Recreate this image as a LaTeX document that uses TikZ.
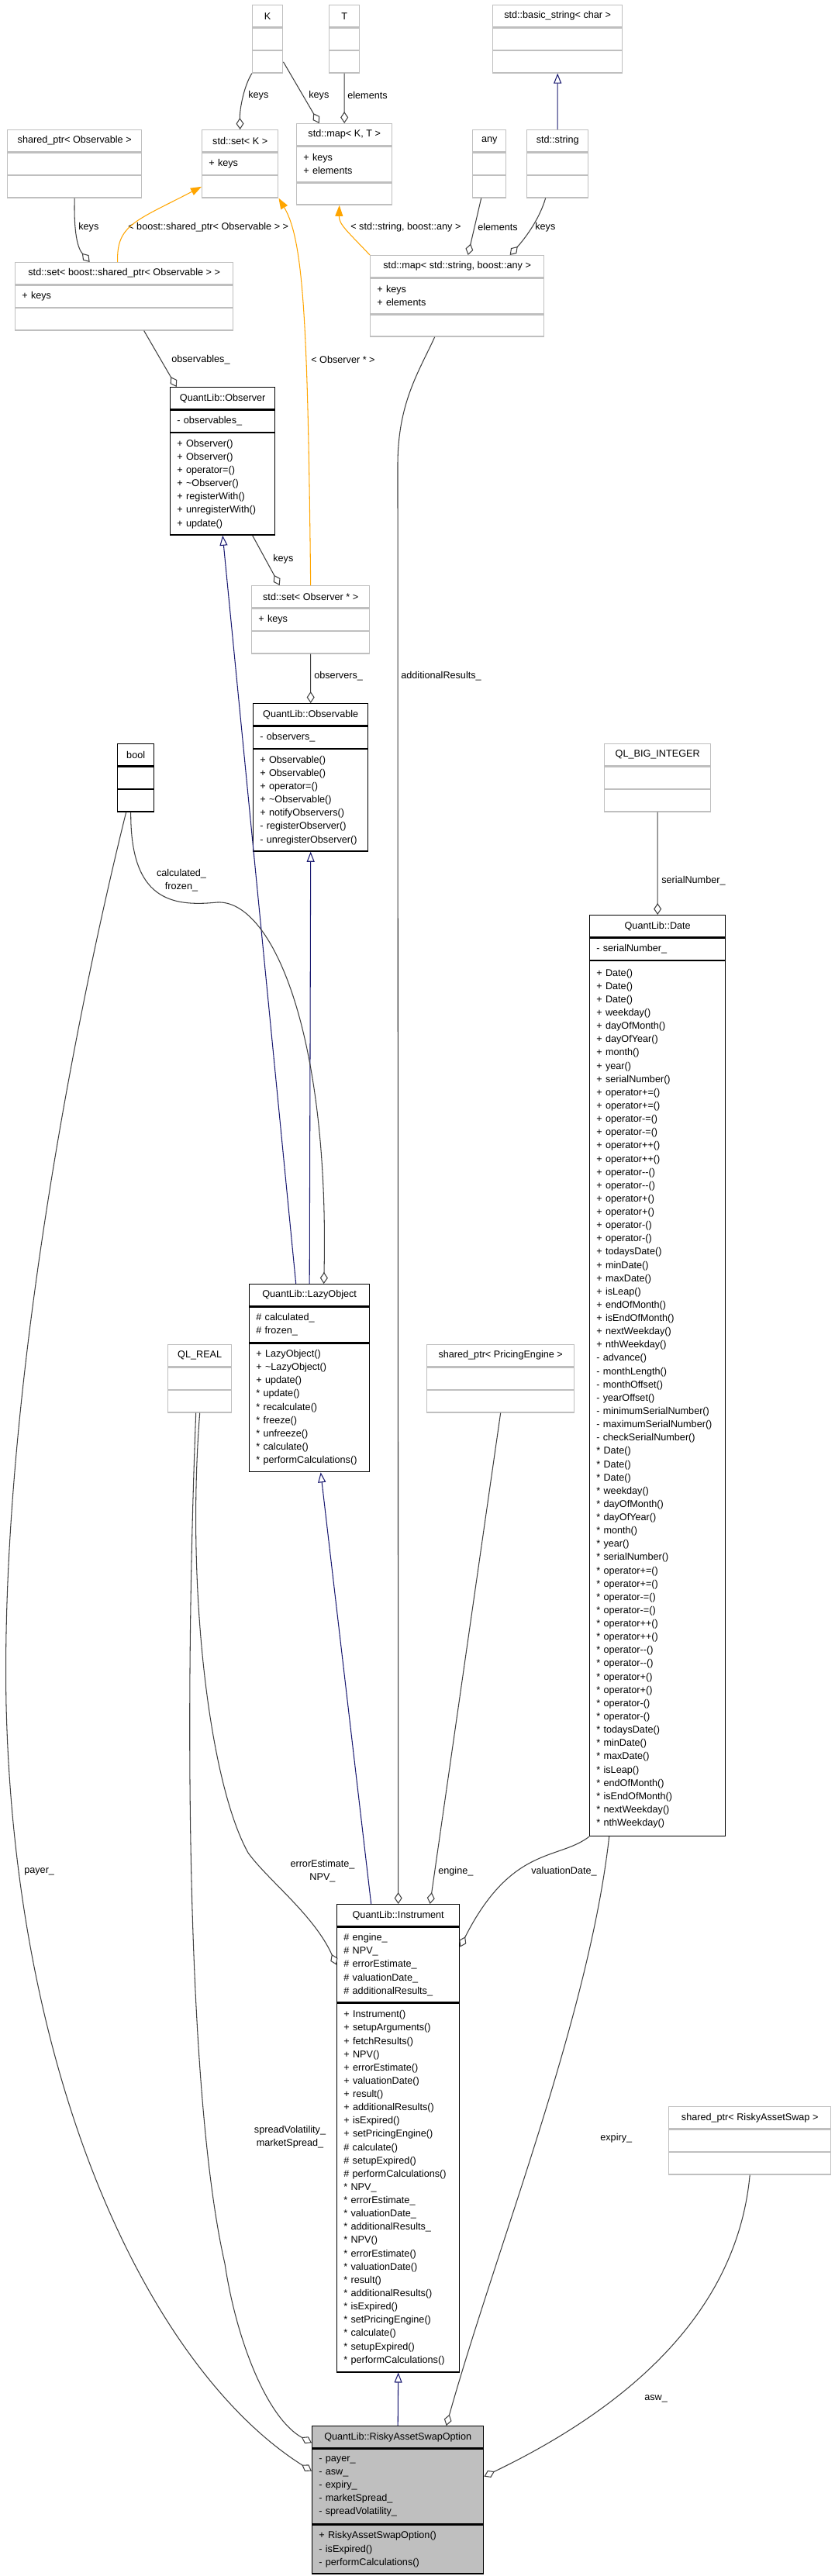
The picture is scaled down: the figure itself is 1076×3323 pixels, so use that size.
\documentclass[tikz,border=0pt]{standalone}
\usepackage{fontspec}
\setmainfont{Liberation Sans}
\usepackage{tikz}
\usetikzlibrary{arrows.meta,positioning}
\definecolor{edgegray}{RGB}{64,64,64}
\definecolor{inhblue}{RGB}{25,25,112}
\definecolor{tplorange}{RGB}{255,165,0}
\definecolor{extgray}{RGB}{191,191,191}
\definecolor{selfgray}{RGB}{191,191,191}
\newcommand{\umlfont}{\fontsize{7.2}{9.75}\selectfont}

\begin{document}
\begin{tikzpicture}[
  x=0.02cm,y=-0.02cm,node distance=0pt,
  every node/.style={font=\umlfont},
  hdr/.style={draw,line width=0.8pt,anchor=north west,minimum height=0.56cm,inner xsep=5pt,inner ysep=1pt},
  sect/.style={draw,line width=0.8pt,align=left,inner xsep=5pt,inner ysep=1pt,minimum height=0.344cm*#1+0.22cm},
  ext/.style={draw=extgray},
  lbl/.style={anchor=west,inner sep=0pt},
  agg/.style={draw=edgegray,line width=0.6pt,-{Diamond[open,length=8.5pt,width=5.7pt]}},
  inh/.style={draw=inhblue,line width=0.6pt,-{Triangle[open,length=7.4pt,width=5.7pt]}},
  tpl/.style={draw=tplorange,line width=0.6pt,-{Triangle[length=8pt,width=5.7pt]}}
]
\useasboundingbox (0,0) rectangle (1076,3323);

% std containers and templates
\node[hdr,ext,minimum width=0.78cm] (k) at (325,6) {K};
\node[sect=1,ext,text width=0.43cm,below=of k] (k-a) {};
\node[sect=1,ext,text width=0.43cm,below=of k-a] (k-m) {};

\node[hdr,ext,minimum width=0.78cm] (t) at (424,6) {T};
\node[sect=1,ext,text width=0.43cm,below=of t] (t-a) {};
\node[sect=1,ext,text width=0.43cm,below=of t-a] (t-m) {};

\node[hdr,ext,minimum width=3.34cm] (bstr) at (635,6) {std::basic\_string< char >};
\node[sect=1,ext,text width=2.99cm,below=of bstr] (bstr-a) {};
\node[sect=1,ext,text width=2.99cm,below=of bstr-a] (bstr-m) {};

\node[hdr,ext,minimum width=3.46cm] (spobs) at (9,167) {shared\_ptr< Observable >};
\node[sect=1,ext,text width=3.11cm,below=of spobs] (spobs-a) {};
\node[sect=1,ext,text width=3.11cm,below=of spobs-a] (spobs-m) {};

\node[hdr,ext,minimum width=1.96cm] (setk) at (260,167) {std::set< K >};
\node[sect=1,ext,text width=1.61cm,below=of setk] (setk-a) {+ keys};
\node[sect=1,ext,text width=1.61cm,below=of setk-a] (setk-m) {};

\node[hdr,ext,minimum width=2.46cm] (mapkt) at (382,159) {std::map< K, T >};
\node[sect=2,ext,text width=2.11cm,below=of mapkt] (mapkt-a) {+ keys\\+ elements};
\node[sect=1,ext,text width=2.11cm,below=of mapkt-a] (mapkt-m) {};

\node[hdr,ext,minimum width=0.86cm] (any) at (609,167) {any};
\node[sect=1,ext,text width=0.51cm,below=of any] (any-a) {};
\node[sect=1,ext,text width=0.51cm,below=of any-a] (any-m) {};

\node[hdr,ext,minimum width=1.58cm] (str) at (679,167) {std::string};
\node[sect=1,ext,text width=1.23cm,below=of str] (str-a) {};
\node[sect=1,ext,text width=1.23cm,below=of str-a] (str-m) {};

\node[hdr,ext,minimum width=5.62cm] (setsp) at (19,338) {std::set< boost::shared\_ptr< Observable > >};
\node[sect=1,ext,text width=5.27cm,below=of setsp] (setsp-a) {+ keys};
\node[sect=1,ext,text width=5.27cm,below=of setsp-a] (setsp-m) {};

\node[hdr,ext,minimum width=4.48cm] (mapsa) at (477,329) {std::map< std::string, boost::any >};
\node[sect=2,ext,text width=4.13cm,below=of mapsa] (mapsa-a) {+ keys\\+ elements};
\node[sect=1,ext,text width=4.13cm,below=of mapsa-a] (mapsa-m) {};

% observer pattern
\node[hdr,minimum width=2.70cm] (obsr) at (219,499) {QuantLib::Observer};
\node[sect=1,text width=2.35cm,below=of obsr] (obsr-a) {- observables\_};
\node[sect=7,text width=2.35cm,below=of obsr-a] (obsr-m) {+ Observer()\\+ Observer()\\+ operator=()\\+ \textasciitilde Observer()\\+ registerWith()\\+ unregisterWith()\\+ update()};

\node[hdr,ext,minimum width=3.04cm] (setobs) at (324,755) {std::set< Observer * >};
\node[sect=1,ext,text width=2.69cm,below=of setobs] (setobs-a) {+ keys};
\node[sect=1,ext,text width=2.69cm,below=of setobs-a] (setobs-m) {};

\node[hdr,minimum width=2.96cm] (obsl) at (326,907) {QuantLib::Observable};
\node[sect=1,text width=2.61cm,below=of obsl] (obsl-a) {- observers\_};
\node[sect=7,text width=2.61cm,below=of obsl-a] (obsl-m) {+ Observable()\\+ Observable()\\+ operator=()\\+ \textasciitilde Observable()\\+ notifyObservers()\\- registerObserver()\\- unregisterObserver()};

\node[hdr,minimum width=0.94cm] (bool) at (151,959) {bool};
\node[sect=1,text width=0.59cm,below=of bool] (bool-a) {};
\node[sect=1,text width=0.59cm,below=of bool-a] (bool-m) {};

\node[hdr,ext,minimum width=2.74cm] (qlbig) at (779,959) {QL\_BIG\_INTEGER};
\node[sect=1,ext,text width=2.39cm,below=of qlbig] (qlbig-a) {};
\node[sect=1,ext,text width=2.39cm,below=of qlbig-a] (qlbig-m) {};

\node[hdr,minimum width=3.50cm] (date) at (760,1180) {QuantLib::Date};
\node[sect=1,text width=3.15cm,below=of date] (date-a) {- serialNumber\_};
\node[sect=65,text width=3.15cm,below=of date-a] (date-m) {+ Date()\\+ Date()\\+ Date()\\+ weekday()\\+ dayOfMonth()\\+ dayOfYear()\\+ month()\\+ year()\\+ serialNumber()\\+ operator+=()\\+ operator+=()\\+ operator-=()\\+ operator-=()\\+ operator++()\\+ operator++()\\+ operator-{}-()\\+ operator-{}-()\\+ operator+()\\+ operator+()\\+ operator-()\\+ operator-()\\+ todaysDate()\\+ minDate()\\+ maxDate()\\+ isLeap()\\+ endOfMonth()\\+ isEndOfMonth()\\+ nextWeekday()\\+ nthWeekday()\\- advance()\\- monthLength()\\- monthOffset()\\- yearOffset()\\- minimumSerialNumber()\\- maximumSerialNumber()\\- checkSerialNumber()\\{}* Date()\\{}* Date()\\{}* Date()\\{}* weekday()\\{}* dayOfMonth()\\{}* dayOfYear()\\{}* month()\\{}* year()\\{}* serialNumber()\\{}* operator+=()\\{}* operator+=()\\{}* operator-=()\\{}* operator-=()\\{}* operator++()\\{}* operator++()\\{}* operator-{}-()\\{}* operator-{}-()\\{}* operator+()\\{}* operator+()\\{}* operator-()\\{}* operator-()\\{}* todaysDate()\\{}* minDate()\\{}* maxDate()\\{}* isLeap()\\{}* endOfMonth()\\{}* isEndOfMonth()\\{}* nextWeekday()\\{}* nthWeekday()};

\node[hdr,minimum width=3.10cm] (lazy) at (321,1656) {QuantLib::LazyObject};
\node[sect=2,text width=2.75cm,below=of lazy] (lazy-a) {\# calculated\_\\\# frozen\_};
\node[sect=9,text width=2.75cm,below=of lazy-a] (lazy-m) {+ LazyObject()\\+ \textasciitilde LazyObject()\\+ update()\\{}* update()\\{}* recalculate()\\{}* freeze()\\{}* unfreeze()\\{}* calculate()\\{}* performCalculations()};

\node[hdr,ext,minimum width=1.64cm] (qlreal) at (216,1734) {QL\_REAL};
\node[sect=1,ext,text width=1.29cm,below=of qlreal] (qlreal-a) {};
\node[sect=1,ext,text width=1.29cm,below=of qlreal-a] (qlreal-m) {};

\node[hdr,ext,minimum width=3.80cm] (spe) at (550,1734) {shared\_ptr< PricingEngine >};
\node[sect=1,ext,text width=3.45cm,below=of spe] (spe-a) {};
\node[sect=1,ext,text width=3.45cm,below=of spe-a] (spe-m) {};

\node[hdr,minimum width=3.16cm] (inst) at (434,2456) {QuantLib::Instrument};
\node[sect=5,text width=2.81cm,below=of inst] (inst-a) {\# engine\_\\\# NPV\_\\\# errorEstimate\_\\\# valuationDate\_\\\# additionalResults\_};
\node[sect=27,text width=2.81cm,below=of inst-a] (inst-m) {+ Instrument()\\+ setupArguments()\\+ fetchResults()\\+ NPV()\\+ errorEstimate()\\+ valuationDate()\\+ result()\\+ additionalResults()\\+ isExpired()\\+ setPricingEngine()\\\# calculate()\\\# setupExpired()\\\# performCalculations()\\{}* NPV\_\\{}* errorEstimate\_\\{}* valuationDate\_\\{}* additionalResults\_\\{}* NPV()\\{}* errorEstimate()\\{}* valuationDate()\\{}* result()\\{}* additionalResults()\\{}* isExpired()\\{}* setPricingEngine()\\{}* calculate()\\{}* setupExpired()\\{}* performCalculations()};

\node[hdr,ext,minimum width=4.18cm] (spras) at (862,2717) {shared\_ptr< RiskyAssetSwap >};
\node[sect=1,ext,text width=3.83cm,below=of spras] (spras-a) {};
\node[sect=1,ext,text width=3.83cm,below=of spras-a] (spras-m) {};

\node[hdr,fill=selfgray,minimum width=4.42cm] (raso) at (402,3129) {QuantLib::RiskyAssetSwapOption};
\node[sect=5,fill=selfgray,text width=4.07cm,below=of raso] (raso-a) {- payer\_\\- asw\_\\- expiry\_\\- marketSpread\_\\- spreadVolatility\_};
\node[sect=3,fill=selfgray,text width=4.07cm,below=of raso-a] (raso-m) {+ RiskyAssetSwapOption()\\- isExpired()\\- performCalculations()};

% edge labels
\node[lbl] (l-keys1) at (320,123) {keys};
\node[lbl] (l-keys2) at (398,123) {keys};
\node[lbl] (l-elem1) at (448,123) {elements};
\node[lbl] (l-keys3) at (101,293) {keys};
\node[lbl] (l-tsp) at (165,293) {< boost::shared\_ptr< Observable > >};
\node[lbl] (l-tsa) at (452,293) {< std::string, boost::any >};
\node[lbl] (l-elem2) at (616,293) {elements};
\node[lbl] (l-keys4) at (690,293) {keys};
\node[lbl] (l-observables) at (221,464) {observables\_};
\node[lbl] (l-tobs) at (401,464) {< Observer * >};
\node[lbl] (l-keys5) at (352,721) {keys};
\node[lbl] (l-observers) at (405,872) {observers\_};
\node[lbl] (l-addres) at (517,872) {additionalResults\_};
\node[lbl,anchor=center,align=center] (l-calc) at (234,1136) {calculated\_\\frozen\_};
\node[lbl] (l-serial) at (853,1136) {serialNumber\_};
\node[lbl,anchor=center,align=center] (l-npv) at (416,2414) {errorEstimate\_\\NPV\_};
\node[lbl] (l-engine) at (565,2414) {engine\_};
\node[lbl] (l-valdate) at (685,2414) {valuationDate\_};
\node[lbl] (l-payer) at (31,2414) {payer\_};
\node[lbl,anchor=center,align=center] (l-spread) at (374,2757) {spreadVolatility\_\\marketSpread\_};
\node[lbl] (l-expiry) at (774,2758) {expiry\_};
\node[lbl] (l-asw) at (831,3094) {asw\_};

% template instances
\draw[tpl] ([xshift=-0.17cm]setsp.north) .. controls (150,290) and (175,285) .. (setk-m.west);
\draw[tpl] (setobs.north) .. controls (397,420) and (392,310) .. (setk-m.south east);
\draw[tpl] (mapsa.north west) .. controls (450,300) and (437,290) .. ([xshift=-0.13cm]mapkt-m.south);

% inheritance
\draw[inh] (str.north) -- (bstr-m.south);
\draw[inh] ([xshift=-0.35cm]lazy.north) -- (obsr-m.south);
\draw[inh] (lazy.north) -- (obsl-m.south);
\draw[inh] ([xshift=-0.7cm]inst.north) -- ([xshift=0.29cm]lazy-m.south);
\draw[inh] (raso.north) -- (inst-m.south);

% members
\draw[agg] (k-m.south west) .. controls (315,110) and (309,140) .. (setk.north);
\draw[agg] (k-m.east) -- ([xshift=-0.65cm]mapkt.north);
\draw[agg] (t-m.south) -- (mapkt.north);
\draw[agg] (spobs-m.south) .. controls (95,300) and (100,320) .. ([xshift=-0.89cm]setsp.north);
\draw[agg] ([xshift=-0.21cm]any-m.south) -- ([xshift=0.28cm]mapsa.north);
\draw[agg] ([xshift=-0.31cm]str-m.south) .. controls (695,285) and (675,310) .. ([xshift=1.36cm]mapsa.north);
\draw[agg] ([xshift=0.51cm]setsp-m.south) -- ([xshift=-1.19cm]obsr.north);
\draw[agg] ([xshift=0.77cm]obsr-m.south) -- ([xshift=-0.8cm]setobs.north);
\draw[agg] (setobs-m.south) -- (obsl.north);
\draw[agg] ([xshift=-0.13cm]bool-m.south) .. controls (168,1160) and (220,1170) .. (280,1164) .. controls (350,1160) and (425,1330) .. ([xshift=0.37cm]lazy.north);
\draw[agg] ([xshift=-0.25cm]bool-m.south) .. controls (100,1300) and (0,1800) .. (8,2200) .. controls (20,2700) and (200,3060) .. ([yshift=0.4cm]raso-a.west);
\draw[agg] (qlreal-m.south) .. controls (240,2050) and (270,2300) .. (320,2390) .. controls (345,2425) and (405,2470) .. (inst-a.west);
\draw[agg] ([xshift=-0.1cm]qlreal-m.south) .. controls (238,2200) and (240,2700) .. (290,2920) .. controls (305,3020) and (345,3120) .. ([yshift=-0.15cm]raso.west);
\draw[agg] (spe-m.south) -- ([xshift=0.82cm]inst.north);
\draw[agg] ([xshift=-0.58cm]mapsa-m.south) .. controls (540,480) and (513,520) .. (513,600) -- (inst.north);
\draw[agg] (qlbig-m.south) -- (date.north);
\draw[agg] (date-m.south west) .. controls (720,2400) and (660,2380) .. ([yshift=0.46cm]inst-a.east);
\draw[agg] ([xshift=-1.25cm]date-m.south) .. controls (760,2600) and (640,2900) .. ([xshift=1.25cm]raso.north);
\draw[agg] (spras-m.south) .. controls (950,2990) and (800,3110) .. ([yshift=0.26cm]raso-a.east);
\end{tikzpicture}
\end{document}
